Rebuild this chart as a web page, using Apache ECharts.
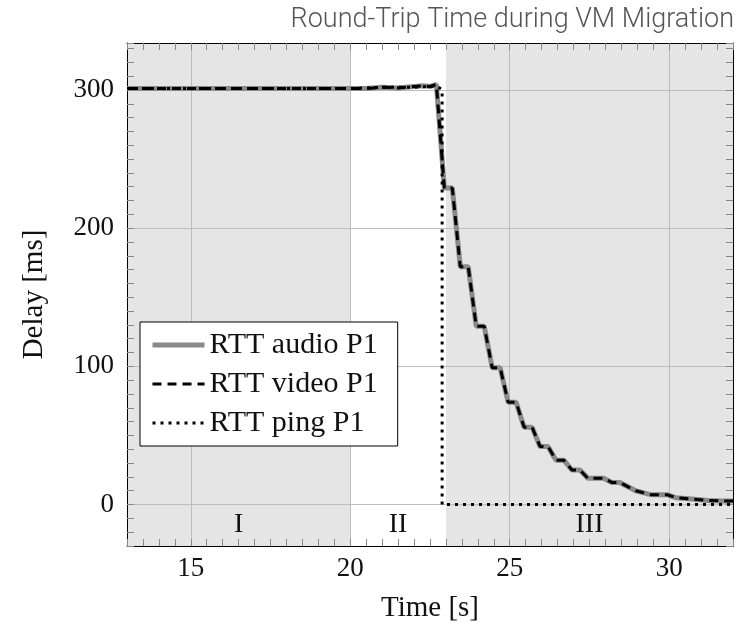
<!DOCTYPE html>
<html>
<head>
<meta charset="utf-8">
<script src="https://cdn.jsdelivr.net/npm/echarts@6/dist/echarts.min.js"></script>
<style>
  html, body { margin: 0; padding: 0; background: #fff; }
  #chart { width: 743px; height: 623px; }
</style>
</head>
<body>
<div id="chart"></div>
<script>
// time [s], delay [ms]
var audio = [
  [13, 301], [14, 301], [15, 301], [16, 301], [17, 301], [18, 301], [19, 301], [20, 301],
  [20.5, 301], [21, 302], [21.5, 301.5], [22, 302.5], [22.3, 303], [22.5, 302.5], [22.7, 304],
  [22.95, 229], [23.2, 229], [23.45, 172], [23.7, 172], [23.95, 129], [24.2, 129],
  [24.45, 99], [24.7, 99], [24.95, 74], [25.2, 74], [25.45, 56], [25.7, 56],
  [25.95, 42], [26.2, 42], [26.45, 32], [26.7, 32], [26.95, 25], [27.2, 25],
  [27.45, 19], [27.95, 19], [28.2, 16], [28.45, 16], [28.95, 10], [29.2, 8.5],
  [29.45, 7], [29.95, 7], [30.2, 5], [30.7, 4], [31.2, 3], [31.7, 2.5], [32, 2.5]
];
var video = [
  [13, 301], [14, 301], [15, 301], [16, 301], [17, 301], [18, 301], [19, 301], [20, 301],
  [20.5, 301], [21, 302], [21.5, 301.5], [22, 302.5], [22.3, 303], [22.5, 302.5], [22.7, 304],
  [22.95, 229], [23.2, 229], [23.45, 172], [23.7, 172], [23.95, 129], [24.2, 129],
  [24.45, 99], [24.7, 99], [24.95, 74], [25.2, 74], [25.45, 56], [25.7, 56],
  [25.95, 42], [26.2, 42], [26.45, 32], [26.7, 32], [26.95, 25], [27.2, 25],
  [27.45, 19], [27.95, 19], [28.2, 16], [28.45, 16], [28.95, 10], [29.2, 8.5],
  [29.45, 7], [29.95, 7], [30.2, 5], [30.7, 4], [31.2, 3], [31.7, 2.5], [32, 2.5]
];
var ping = [
  [13, 301], [16, 301], [20, 301], [21, 302], [22, 302], [22.7, 303], [22.88, 300],
  [22.88, 0], [32, 0]
];
var xTicks = [15, 20, 25, 30];
var yTicks = [0, 100, 200, 300];
var phaseNames = ['I', 'II', 'III'];
var phaseStart = [13, 20, 23];
var phaseEnd = [20, 23, 32];

var serif = 'Liberation Serif';
var xRange = { min: 13, max: 32 };
var yRange = { min: -30, max: 334 };

var myChart = echarts.init(document.getElementById('chart'));

// major axis: line, labels, grid lines at the listed ticks
function majorAxis(pos, range, ticks, name, gap, margin) {
  return {
    type: 'value', position: pos, z: 2,
    min: range.min, max: range.max,
    axisLine: { show: true, onZero: false, lineStyle: { color: '#000', width: 1 } },
    axisTick: { show: true, inside: true, length: 7, customValues: ticks, lineStyle: { color: '#777' } },
    axisLabel: {
      show: true, customValues: ticks, margin: margin,
      fontFamily: serif, fontSize: 27, color: '#111'
    },
    splitLine: { show: true, lineStyle: { color: '#bdbdbd', width: 1 } },
    name: name, nameLocation: 'middle', nameGap: gap,
    nameTextStyle: { fontFamily: serif, fontSize: 29, color: '#111' }
  };
}
// small ticks only (optionally with the frame line)
function minorAxis(pos, range, step, withLine) {
  return {
    type: 'value', position: pos, z: 2,
    min: range.min, max: range.max, interval: step,
    axisLine: { show: withLine, onZero: false, lineStyle: { color: '#000', width: 1 } },
    axisTick: { show: true, inside: true, length: 7, lineStyle: { color: '#888' } },
    axisLabel: { show: false },
    splitLine: { show: false }
  };
}

var option = {
  backgroundColor: '#fff',
  animation: false,
  title: {
    text: 'Round-Trip Time during VM Migration',
    right: 4,
    top: 2,
    textStyle: { fontFamily: 'Roboto', fontWeight: 300, fontSize: 27, color: '#555' }
  },
  grid: { left: 127, right: 10, top: 43, bottom: 77, outerBoundsMode: 'none' },
  xAxis: [
    majorAxis('bottom', xRange, xTicks, 'Time [s]', 48, 9),
    minorAxis('bottom', xRange, 0.5, false),
    minorAxis('top', xRange, 0.5, true)
  ],
  yAxis: [
    majorAxis('left', yRange, yTicks, 'Delay [ms]', 78, 13),
    minorAxis('left', yRange, 10, false),
    minorAxis('right', yRange, 10, true)
  ],
  legend: {
    data: [
      { name: 'RTT audio P1', lineStyle: { width: 5, color: '#8a8a8a' } },
      { name: 'RTT video P1', lineStyle: { width: 3, color: '#000' } },
      { name: 'RTT ping P1', lineStyle: { width: 3, color: '#000' } }
    ],
    orient: 'vertical',
    left: 140,
    top: 322,
    padding: [8, 20, 8, 10],
    itemGap: 9,
    itemWidth: 52,
    itemHeight: 14,
    itemStyle: { opacity: 0 },
    backgroundColor: '#fff',
    borderColor: '#000',
    borderWidth: 1,
    borderRadius: 0,
    textStyle: { fontFamily: serif, fontSize: 30, color: '#111', lineHeight: 29 }
  },
  series: [
    {
      name: 'phases',
      type: 'line',
      z: 1,
      data: [],
      silent: true,
      markArea: {
        silent: true,
        data: phaseNames.map(function (n, i) {
          return [
            {
              name: n,
              xAxis: phaseStart[i],
              itemStyle: { color: n === 'II' ? '#fff' : '#e5e5e5' },
              label: {
                show: true, position: 'insideBottom', distance: 7,
                fontFamily: serif, fontSize: 28, color: '#111'
              }
            },
            { xAxis: phaseEnd[i] }
          ];
        })
      }
    },
    {
      name: 'RTT audio P1',
      type: 'line',
      z: 3,
      data: audio,
      showSymbol: false,
      symbol: 'none',
      color: '#8a8a8a',
      lineStyle: { color: '#8a8a8a', width: 5 }
    },
    {
      name: 'RTT video P1',
      type: 'line',
      z: 4,
      data: video,
      showSymbol: false,
      symbol: 'none',
      color: '#000',
      lineStyle: { color: '#000', width: 3, type: [9, 6] }
    },
    {
      name: 'RTT ping P1',
      type: 'line',
      z: 5,
      data: ping,
      showSymbol: false,
      symbol: 'none',
      color: '#000',
      lineStyle: { color: '#000', width: 3, type: [3, 5] }
    }
  ]
};
myChart.setOption(option);
window.addEventListener('resize', function () {
  myChart.resize();
});
</script>
</body>
</html>
